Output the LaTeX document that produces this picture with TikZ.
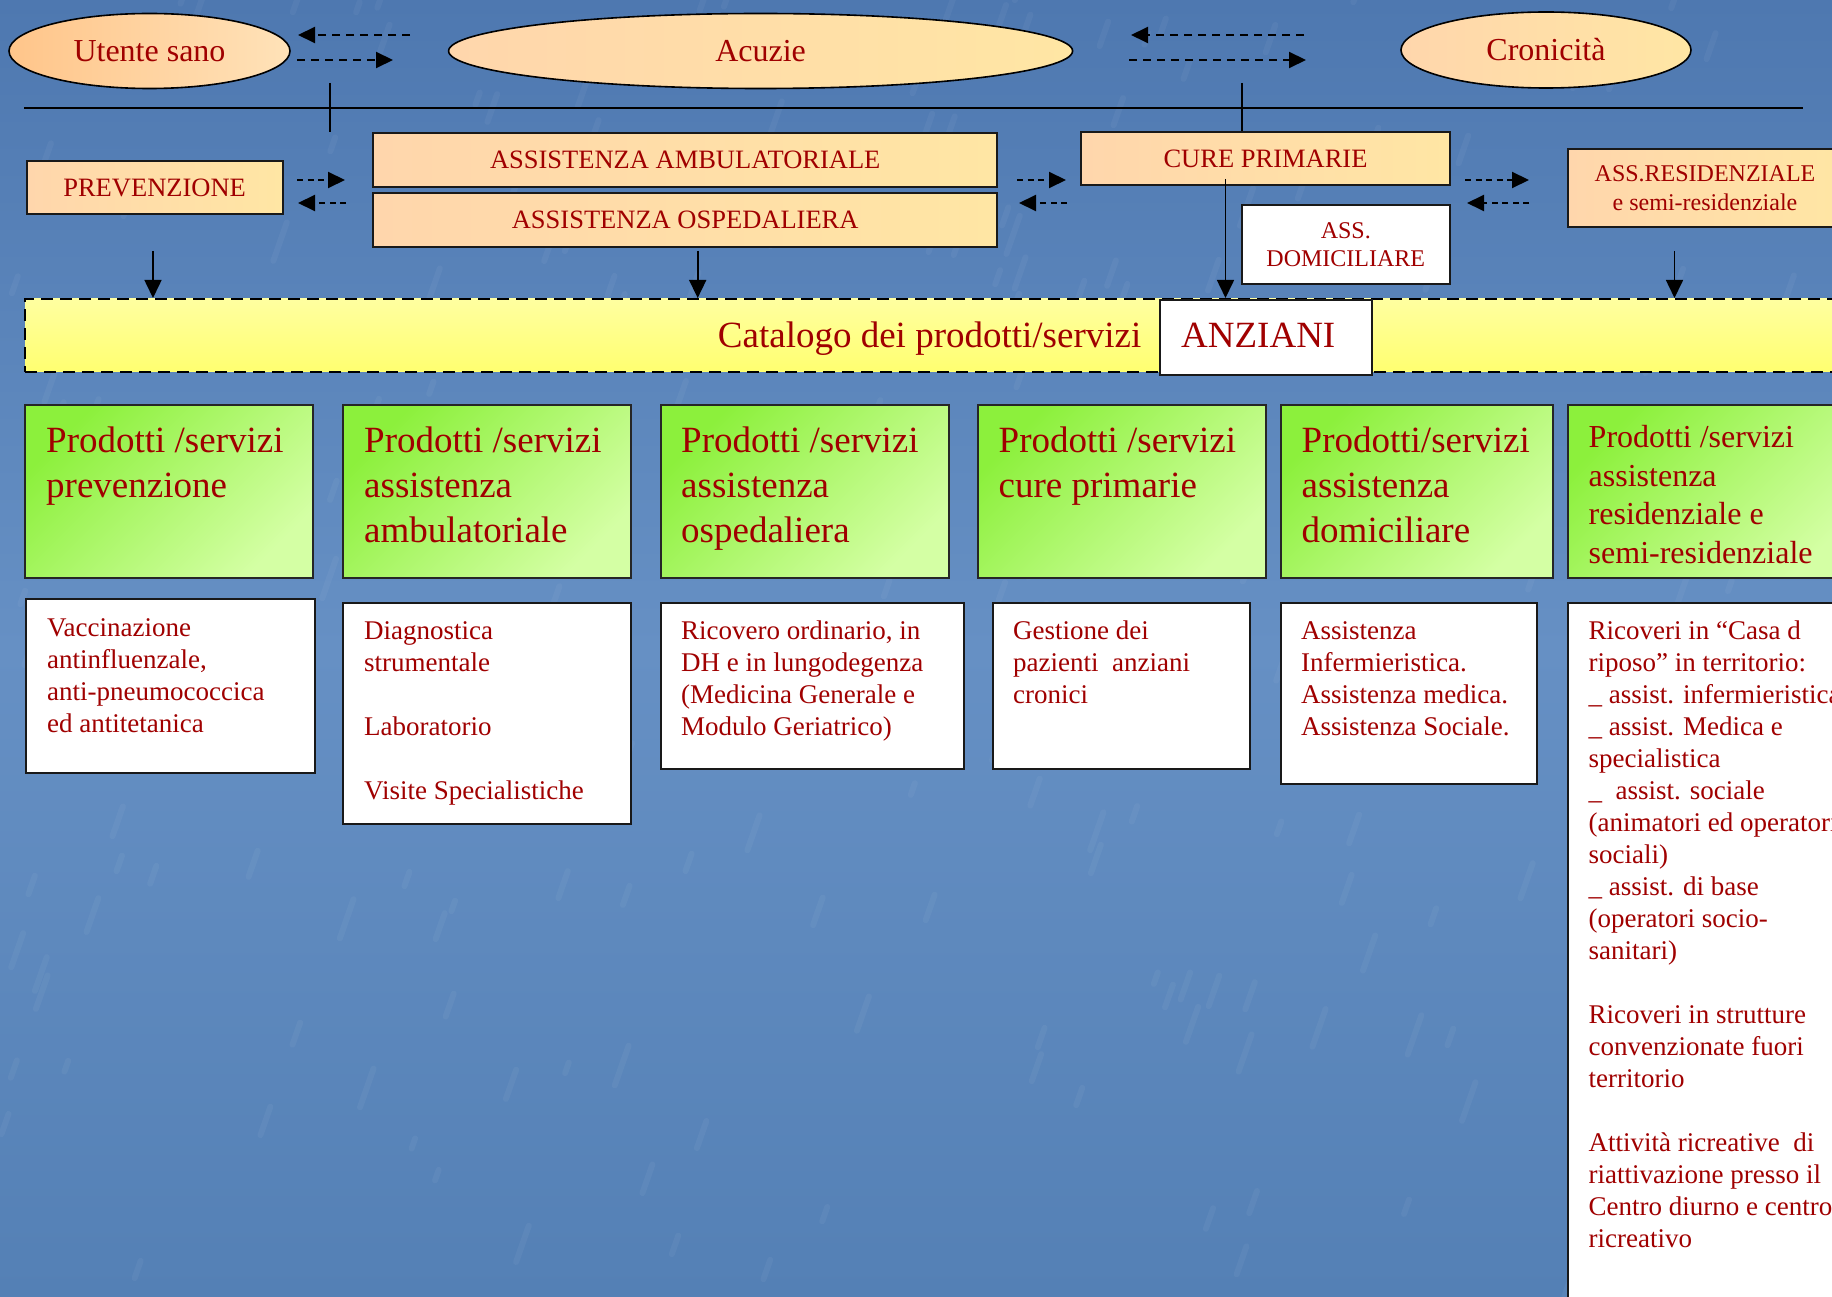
\documentclass[tikz,border=0pt]{standalone}
\usepackage{fontspec}
\setmainfont{Liberation Serif}
\usetikzlibrary{shapes.geometric,arrows.meta}
\definecolor{txtred}{HTML}{A00000}
\definecolor{bgtop}{HTML}{4E78B0}
\definecolor{bgmid}{HTML}{6690C4}
\definecolor{bgbot}{HTML}{5480B5}
\definecolor{peachA}{HTML}{FFD6AC}
\definecolor{peachB}{HTML}{FFE6A4}
\definecolor{orangeA}{HTML}{FFC58A}
\definecolor{orangeB}{HTML}{FFE2B8}
\definecolor{greenA}{HTML}{8CF03C}
\definecolor{greenB}{HTML}{D4FFA4}
\definecolor{yelA}{HTML}{FFFFA0}
\definecolor{yelB}{HTML}{FFFF70}
\newcommand{\blocktext}[3]{\parbox[t]{400pt}{\raggedright\fontsize{#1}{#2}\selectfont #3}}
\newcommand{\lowr}[1]{\raisebox{-2pt}{#1}}
\begin{document}
\begin{tikzpicture}[x=1pt,y=-1pt,
  ell/.style={ellipse, draw=black, line width=1.6pt, inner sep=0pt, text=txtred,
    font=\fontsize{32}{38}\selectfont},
  topbox/.style={rectangle, draw=black!90, line width=2pt, inner sep=0pt, text=txtred,
    left color=peachA, right color=peachB, align=center},
  greenbox/.style={rectangle, draw=black!85, line width=2pt, inner sep=0pt,
    top color=greenA, bottom color=greenB, shading angle=45,
    minimum height=173pt},
  whitebox/.style={rectangle, draw=black!90, line width=2pt, fill=white, inner sep=0pt},
  txt/.style={anchor=base west, inner sep=0pt, text=txtred},
  darr/.style={line width=2pt, dash pattern=on 8pt off 6pt, -{Triangle[length=17pt,width=16pt]}},
  darrs/.style={line width=2pt, dash pattern=on 6pt off 4.5pt, -{Triangle[length=17pt,width=16pt]}},
  sarr/.style={line width=1.6pt, -{Triangle[length=18pt,width=17pt]}},
  rule/.style={line width=2pt}
]
\useasboundingbox (0,0) rectangle (1832,1297);
\clip (0,0) rectangle (1832,1297);
% background
\shade[top color=bgtop, bottom color=bgbot, middle color=bgmid] (0,0) rectangle (1832,1297);
\pgfmathsetseed{11}
\foreach \i in {1,...,220}{
  \pgfmathsetmacro\xx{rnd*1832}
  \pgfmathsetmacro\yy{rnd*1297}
  \pgfmathsetmacro\ll{10+rnd*30}
  \draw[white, opacity=0.045, line width=6pt, line cap=round] (\xx,\yy) -- ++(0.35*\ll,-\ll);
}

% top ellipses
\node[ell, minimum width=281pt, minimum height=75pt, left color=orangeA, right color=orangeB] (utente) at (149.5,51) {\lowr{Utente sano}};
\node[ell, minimum width=624pt, minimum height=75pt, left color=peachA, right color=peachB] (acuzie) at (760.6,51) {\lowr{Acuzie}};
\node[ell, minimum width=290pt, minimum height=76pt, left color=peachA, right color=peachB] (cronicita) at (1546,50) {\lowr{Cronicità}};

% dashed arrows between ellipses
\coordinate (a1s) at (410,35);   \coordinate (a1e) at (298,35);
\coordinate (a2s) at (297,60);   \coordinate (a2e) at (393,60);
\coordinate (a3s) at (1304,35);  \coordinate (a3e) at (1131,35);
\coordinate (a4s) at (1129,60);  \coordinate (a4e) at (1306,60);
\draw[darr] (a1s) -- (a1e);
\draw[darr] (a2s) -- (a2e);
\draw[darr] (a3s) -- (a3e);
\draw[darr] (a4s) -- (a4e);

% horizontal rule and ticks
\coordinate (hl) at (24,108); \coordinate (hr) at (1803,108);
\draw[rule] (hl) -- (hr);
\coordinate (t1a) at (329.5,83); \coordinate (t1b) at (329.5,132);
\draw[rule] (t1a) -- (t1b);

% second-row boxes
\node[topbox, minimum width=256pt, minimum height=53pt, font=\fontsize{26.5}{30}\selectfont] (prev) at (154.6,187.5) {\lowr{PREVENZIONE}};
\node[topbox, minimum width=624pt, minimum height=54pt, font=\fontsize{26.5}{30}\selectfont] (amb) at (685.2,160) {\lowr{ASSISTENZA AMBULATORIALE}};
\node[topbox, minimum width=624pt, minimum height=54pt, font=\fontsize{26.5}{30}\selectfont] (osp) at (685.2,220) {\lowr{ASSISTENZA OSPEDALIERA}};
\node[topbox, minimum width=369pt, minimum height=53pt, font=\fontsize{26.5}{30}\selectfont] (cure) at (1265.5,158.5) {\lowr{CURE PRIMARIE}};
\node[whitebox, text=txtred, align=center, minimum width=208.5pt, minimum height=79pt, font=\fontsize{24}{28}\selectfont] (dom) at (1345.75,244.5) {ASS.\\DOMICILIARE};
\node[topbox, minimum width=274pt, minimum height=78pt, font=\fontsize{24}{29}\selectfont] (res) at (1705,188) {ASS.RESIDENZIALE\\e semi-residenziale};

\coordinate (t2a) at (1241.5,83);
\draw[rule] (t2a) -- (t2a |- cure.north);

% dashed arrows between boxes
\coordinate (b1s) at (297,180); \coordinate (b1e) at (345,180);
\coordinate (b2s) at (346,203); \coordinate (b2e) at (298,203);
\coordinate (b3s) at (1017,180); \coordinate (b3e) at (1066,180);
\coordinate (b4s) at (1067,203); \coordinate (b4e) at (1019,203);
\coordinate (b5s) at (1465,180); \coordinate (b5e) at (1529,180);
\coordinate (b6s) at (1529,203); \coordinate (b6e) at (1467,203);
\draw[darrs] (b1s) -- (b1e);
\draw[darrs] (b2s) -- (b2e);
\draw[darrs] (b3s) -- (b3e);
\draw[darrs] (b4s) -- (b4e);
\draw[darrs] (b5s) -- (b5e);
\draw[darrs] (b6s) -- (b6e);

% catalogue band
\node[rectangle, draw=black, line width=2pt, dash pattern=on 12pt off 7pt, top color=yelA, bottom color=yelB, inner sep=0pt, minimum width=1830pt, minimum height=73pt] (band) at (940,335.5) {};
\node[txt, anchor=base east, font=\fontsize{37}{44}\selectfont] (catal) at (1141.5,348) {Catalogo dei prodotti/servizi};
\node[whitebox, minimum width=211.5pt, minimum height=75pt] (anz) at (1265.75,337.5) {};
\node[txt, font=\fontsize{37}{44}\selectfont] (anztxt) at (1181,347.5) {ANZIANI};

% down arrows
\coordinate (d1) at (153,251);
\coordinate (d2) at (697.7,251);
\coordinate (d3) at (1225.5,179);
\coordinate (d4) at (1674.5,251);
\draw[sarr] (d1) -- (d1 |- band.north);
\draw[sarr] (d2) -- (d2 |- band.north);
\draw[sarr] (d3) -- (d3 |- band.north);
\draw[sarr] (d4) -- (d4 |- band.north);

% green boxes
\node[greenbox, minimum width=287.6pt] (g1) at (169,491.5) {};
\node[greenbox, minimum width=287.6pt] (g2) at (487.1,491.5) {};
\node[greenbox, minimum width=287.4pt] (g3) at (805.1,491.5) {};
\node[greenbox, minimum width=287.1pt] (g4) at (1122,491.5) {};
\node[greenbox, minimum width=271.8pt] (g5) at (1416.9,491.5) {};
\node[greenbox, minimum width=292pt] (g6) at (1714.3,491.5) {};

\node[txt] (g1t) at (46,452) {\blocktext{37}{45}{Prodotti /servizi\\prevenzione}};
\node[txt] (g2t) at (364,452) {\blocktext{37}{45}{Prodotti /servizi\\assistenza\\ambulatoriale}};
\node[txt] (g3t) at (681,452) {\blocktext{37}{45}{Prodotti /servizi\\assistenza\\ospedaliera}};
\node[txt] (g4t) at (998.5,452) {\blocktext{37}{45}{Prodotti /servizi\\cure primarie}};
\node[txt] (g5t) at (1301.5,452) {\blocktext{37}{45}{Prodotti/servizi\\assistenza\\domiciliare}};
\node[txt] (g6t) at (1588.5,447.5) {\blocktext{32}{38.5}{Prodotti /servizi\\assistenza\\residenziale e\\semi-residenziale}};

% white boxes
\node[whitebox, minimum width=288.6pt, minimum height=174pt] (w1) at (170.7,686) {};
\node[whitebox, minimum width=288pt, minimum height=221.5pt] (w2) at (487,713.25) {};
\node[whitebox, minimum width=302.6pt, minimum height=166pt] (w3) at (812.3,685.5) {};
\node[whitebox, minimum width=256.3pt, minimum height=166pt] (w4) at (1121.45,685.5) {};
\node[whitebox, minimum width=255.7pt, minimum height=181pt] (w5) at (1408.85,693) {};
\node[whitebox, minimum width=292pt, minimum height=720pt] (w6) at (1714,962.5) {};

\node[txt] (w1t) at (47,636) {\blocktext{27}{32}{Vaccinazione\\antinfluenzale,\\anti-pneumococcica\\ed antitetanica}};
\node[txt] (w2t) at (364,639) {\blocktext{27}{32}{Diagnostica\\strumentale\\[32pt]Laboratorio\\[32pt]Visite Specialistiche}};
\node[txt] (w3t) at (681,639) {\blocktext{27}{32}{Ricovero ordinario, in\\DH e in lungodegenza\\(Medicina Generale e\\Modulo Geriatrico)}};
\node[txt] (w4t) at (1013,639) {\blocktext{27}{32}{Gestione dei\\pazienti\ \ anziani\\cronici}};
\node[txt] (w5t) at (1301,639) {\blocktext{27}{32}{Assistenza\\Infermieristica.\\Assistenza medica.\\Assistenza Sociale.}};
\node[txt] (w6t) at (1588.5,639) {\blocktext{27}{32}{Ricoveri in “Casa d\\riposo” in territorio:\\\_ assist. infermieristica\\\_ assist. Medica e\\specialistica\\\_\ \ assist. sociale\\(animatori ed operatori\\sociali)\\\_ assist. di base\\(operatori socio-\\sanitari)\\[32pt]Ricoveri in strutture\\convenzionate fuori\\territorio\\[32pt]Attività ricreative\ \ di\\riattivazione presso il\\Centro diurno e centro\\ricreativo}};
\end{tikzpicture}
\end{document}
